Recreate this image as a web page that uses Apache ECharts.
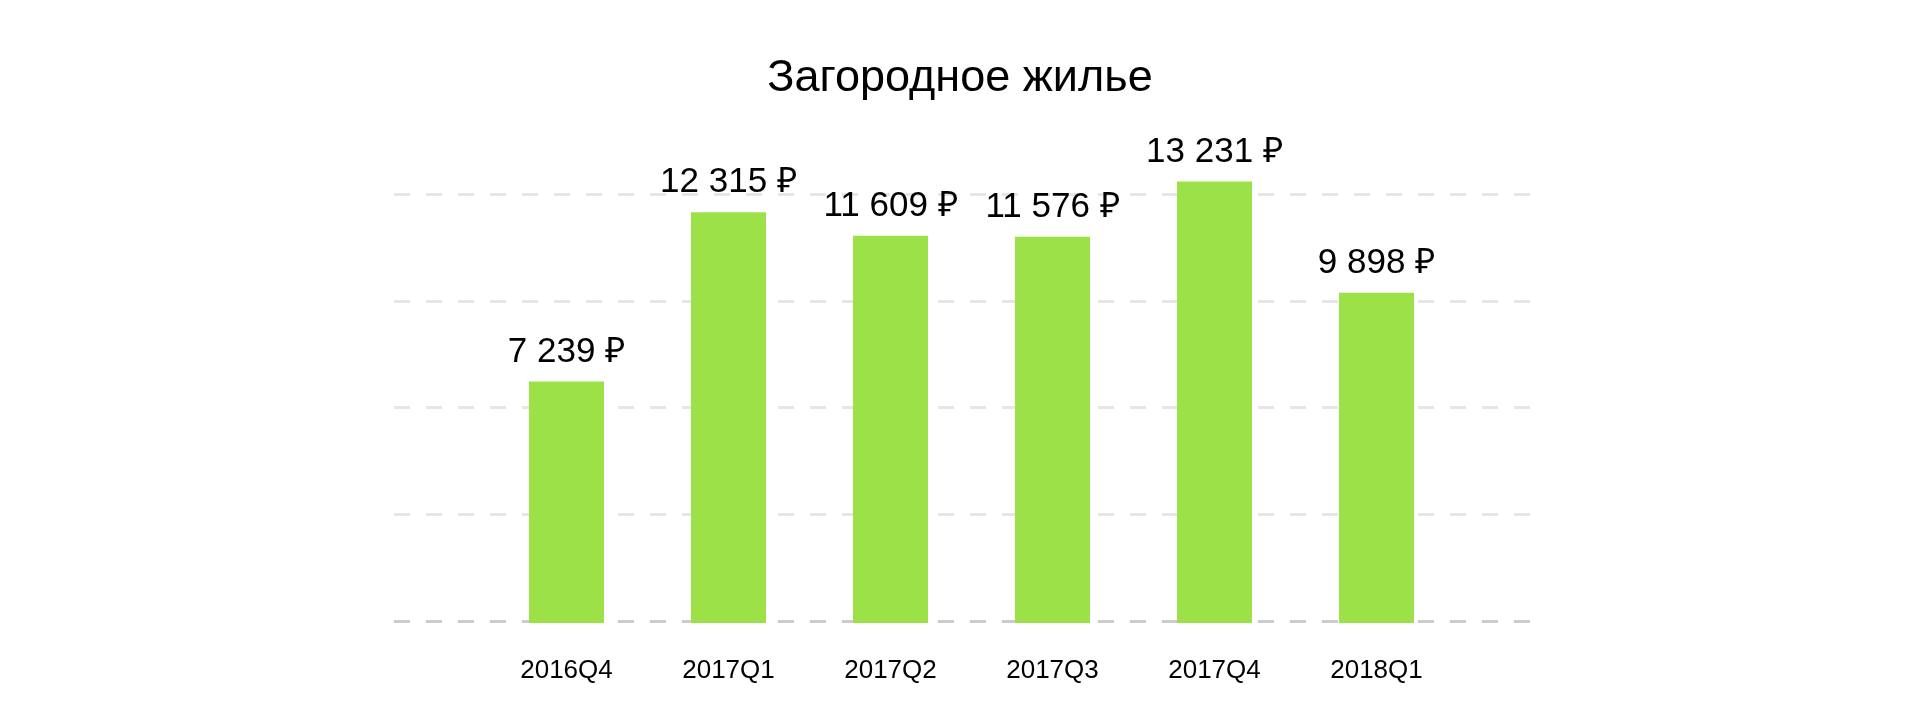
<!DOCTYPE html>
<html>
<head>
<meta charset="utf-8">
<script src="https://cdn.jsdelivr.net/npm/echarts@6/dist/echarts.min.js"></script>
<style>
  html, body { margin: 0; padding: 0; background: #fff; }
  #chart { width: 1920px; height: 723px; }
</style>
</head>
<body>
<div id="chart"></div>
<script>
const titleText = 'Загородное жилье';
const categories = ['2016Q4', '2017Q1', '2017Q2', '2017Q3', '2017Q4', '2018Q1'];
const values = [7239, 12315, 11609, 11576, 13231, 9898];
const currency = '₽';

function fmt(v) {
  return String(v).replace(/\B(?=(\d{3})+(?!\d))/g, ' ') + ' ' + currency;
}

const FONT = 'Arial, "Liberation Sans", sans-serif';
const chart = echarts.init(document.getElementById('chart'), null, { renderer: 'canvas' });

chart.setOption({
  animation: false,
  backgroundColor: '#ffffff',
  title: {
    text: titleText,
    left: 'center',
    top: 51,
    textStyle: { fontFamily: FONT, fontSize: 45, fontWeight: 'normal', color: '#000' }
  },
  grid: [
    { left: 394, right: 390, top: 194, bottom: 102 },
    { left: 485.5, right: 462.5, top: 196, bottom: 100 }
  ],
  xAxis: [
    { type: 'category', gridIndex: 0, data: categories, show: false },
    {
      type: 'category', gridIndex: 1, data: categories,
      axisLine: { show: false }, axisTick: { show: false },
      axisLabel: { fontFamily: FONT, fontSize: 26, color: '#000', margin: 35 }
    }
  ],
  yAxis: [
    {
      type: 'value', gridIndex: 0, min: 0, max: 12800, interval: 3200,
      axisLine: { show: false }, axisTick: { show: false }, axisLabel: { show: false },
      splitLine: {
        show: true,
        lineStyle: { type: [16, 16], width: 3, color: ['#cccccc', '#e6e6e6', '#e6e6e6', '#e6e6e6', '#e6e6e6'] }
      }
    },
    {
      type: 'value', gridIndex: 1, min: 0, max: 12800, interval: 3200,
      show: false, splitLine: { show: false }
    }
  ],
  series: [
    {
      type: 'bar',
      xAxisIndex: 1, yAxisIndex: 1,
      data: values,
      barWidth: 75,
      clip: false,
      z: 5,
      itemStyle: { color: '#9de149' },
      label: {
        show: true,
        position: 'top',
        distance: 12,
        fontFamily: FONT,
        fontSize: 35,
        color: '#000',
        formatter: p => fmt(p.value)
      }
    }
  ]
});
</script>
</body>
</html>
